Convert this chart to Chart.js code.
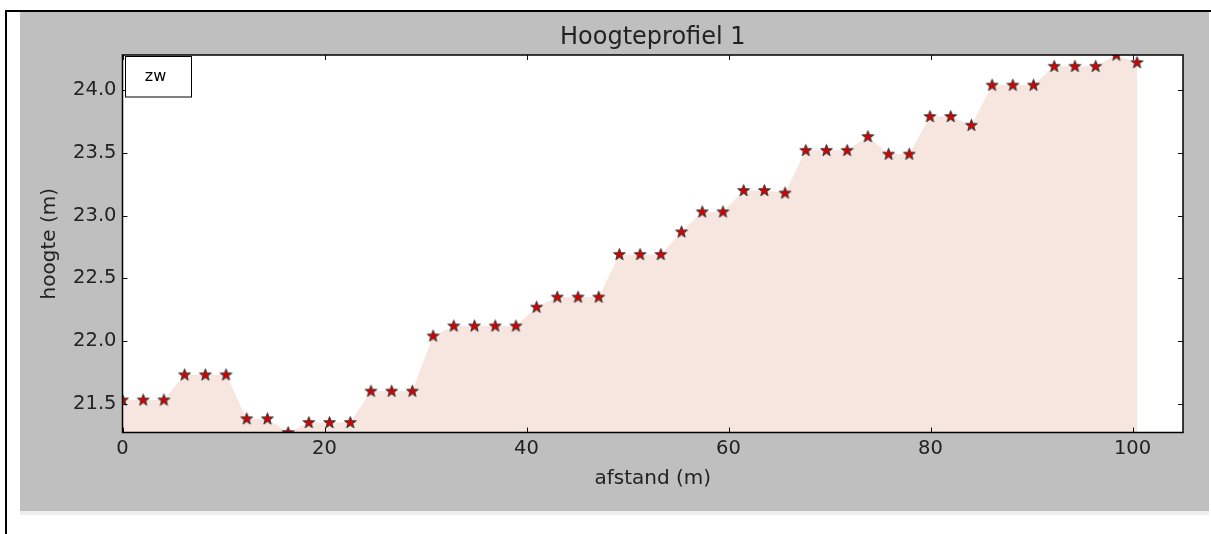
<!DOCTYPE html>
<html>
<head>
<meta charset="utf-8">
<script src="https://cdn.jsdelivr.net/npm/chart.js@4"></script>
<style>
    body { margin: 0; background: #fff; overflow: hidden; }
    canvas { display: block; }
</style>
</head>
<body>
<canvas id="hoogteprofiel" width="1211" height="534"></canvas>
<script>
// afstand langs het profiel (m)
const afstand = [
    0, 2.05, 4.1, 6.15, 8.2, 10.25, 12.3, 14.35, 16.4, 18.45,
    20.5, 22.55, 24.6, 26.65, 28.7, 30.75, 32.8, 34.85, 36.9, 38.95,
    41.0, 43.05, 45.1, 47.15, 49.2, 51.25, 53.3, 55.35, 57.4, 59.45,
    61.5, 63.55, 65.6, 67.65, 69.7, 71.75, 73.8, 75.85, 77.9, 79.95,
    82.0, 84.05, 86.1, 88.15, 90.2, 92.25, 94.3, 96.35, 98.4, 100.45
];

// hoogte per punt (m)
const hoogte = [
    21.53, 21.53, 21.53, 21.73, 21.73, 21.73, 21.38, 21.38, 21.27, 21.35,
    21.35, 21.35, 21.60, 21.60, 21.60, 22.04, 22.12, 22.12, 22.12, 22.12,
    22.27, 22.35, 22.35, 22.35, 22.69, 22.69, 22.69, 22.87, 23.03, 23.03,
    23.20, 23.20, 23.18, 23.52, 23.52, 23.52, 23.63, 23.49, 23.49, 23.79,
    23.79, 23.72, 24.04, 24.04, 24.04, 24.19, 24.19, 24.19, 24.28, 24.22
];

const titel = "Hoogteprofiel 1";
const legendaTekst = "zw";
const xTitel = "afstand (m)";
const yTitel = "hoogte (m)";

const tekstKleur = "#222";
const fontFam = "'DejaVu Sans', sans-serif";

// ster-marker zoals matplotlib '*'
function maakSter() {
    const c = document.createElement("canvas");
    c.width = 15;
    c.height = 15;
    const g = c.getContext("2d");
    const R = 6.2, r = 2.5;
    g.beginPath();
    for (let i = 0; i < 10; i++) {
        const rad = i % 2 === 0 ? R : r;
        const a = -Math.PI / 2 + i * Math.PI / 5;
        const px = 7.5 + rad * Math.cos(a);
        const py = 7.8 + rad * Math.sin(a);
        if (i === 0) g.moveTo(px, py); else g.lineTo(px, py);
    }
    g.closePath();
    g.fillStyle = "#d80000";
    g.fill();
    g.lineWidth = 1;
    g.strokeStyle = "#333";
    g.stroke();
    return c;
}

// achtergrond van de figuur (grijs vlak met rand)
const figuurAchtergrond = {
    id: "figuurAchtergrond",
    beforeDraw(chart) {
        const { ctx, chartArea } = chart;
        ctx.save();
        ctx.fillStyle = "#fff";
        ctx.fillRect(0, 0, chart.width, chart.height);
        ctx.fillStyle = "#000";
        ctx.fillRect(5, 10, 2, 524);
        ctx.fillRect(5, 10, 1206, 2);
        ctx.fillStyle = "#bfbfbf";
        ctx.fillRect(20, 12, 1189, 499);
        ctx.fillStyle = "#eeeeee";
        ctx.fillRect(20, 511, 1189, 4);
        ctx.fillStyle = "#fff";
        ctx.fillRect(chartArea.left, chartArea.top, chartArea.right - chartArea.left, chartArea.bottom - chartArea.top);
        ctx.restore();
    }
};

// kader, tick-streepjes naar binnen en legenda
const kaderEnTicks = {
    id: "kaderEnTicks",
    afterDraw(chart) {
        const { ctx, chartArea, scales } = chart;
        const { left, right, top, bottom } = chartArea;
        ctx.save();
        ctx.strokeStyle = "#111";
        ctx.lineWidth = 1;
        ctx.beginPath();
        scales.x.ticks.forEach(t => {
            const px = Math.round(scales.x.getPixelForValue(t.value)) + 0.5;
            ctx.moveTo(px, bottom); ctx.lineTo(px, bottom - 5);
            ctx.moveTo(px, top); ctx.lineTo(px, top + 5);
        });
        scales.y.ticks.forEach(t => {
            const py = Math.round(scales.y.getPixelForValue(t.value)) + 0.5;
            ctx.moveTo(left, py); ctx.lineTo(left + 5, py);
            ctx.moveTo(right, py); ctx.lineTo(right - 5, py);
        });
        ctx.stroke();

        ctx.lineWidth = 1.5;
        ctx.strokeStyle = "#000";
        ctx.strokeRect(left, top, right - left, bottom - top);

        // legenda
        ctx.fillStyle = "#fff";
        ctx.fillRect(125, 56, 66, 41);
        ctx.lineWidth = 1;
        ctx.strokeStyle = "#000";
        ctx.strokeRect(125.5, 56.5, 66, 40.5);
        ctx.fillStyle = "#000";
        ctx.font = "16px " + fontFam;
        ctx.textAlign = "center";
        ctx.textBaseline = "middle";
        ctx.fillText(legendaTekst, 155.5, 77);
        ctx.restore();
    }
};

const punten = afstand.map((x, i) => ({ x, y: hoogte[i] }));

const ctx = document.getElementById("hoogteprofiel").getContext("2d");

new Chart(ctx, {
    type: "line",
    data: {
        datasets: [{
            label: legendaTekst,
            data: punten,
            borderColor: "transparent",
            borderWidth: 0,
            backgroundColor: "rgb(247, 230, 224)",
            fill: "start",
            tension: 0,
            pointStyle: maakSter(),
            pointRadius: 7,
            pointHoverRadius: 7,
            clip: 0
        }]
    },
    options: {
        responsive: false,
        devicePixelRatio: 1,
        animation: false,
        events: [],
        layout: {
            padding: { left: 0, right: 28, top: 0, bottom: 0 }
        },
        scales: {
            x: {
                type: "linear",
                min: 0,
                max: 105,
                afterFit: s => { s.height = 101.5; },
                ticks: {
                    stepSize: 20,
                    includeBounds: false,
                    padding: 5,
                    color: tekstKleur,
                    font: { family: fontFam, size: 19.5 }
                },
                grid: { display: false, drawTicks: false },
                border: { display: false },
                title: {
                    display: true,
                    text: xTitel,
                    color: tekstKleur,
                    font: { family: fontFam, size: 20 },
                    padding: { top: 0, bottom: 43 }
                }
            },
            y: {
                min: Math.min(...hoogte),
                max: Math.max(...hoogte),
                afterFit: s => { s.width = 122.5; },
                ticks: {
                    stepSize: 0.5,
                    includeBounds: false,
                    padding: 6,
                    color: tekstKleur,
                    font: { family: fontFam, size: 19.5 },
                    callback: v => v.toFixed(1)
                },
                grid: { display: false, drawTicks: false },
                border: { display: false },
                title: {
                    display: true,
                    text: yTitel,
                    color: tekstKleur,
                    font: { family: fontFam, size: 20 },
                    padding: { top: 38, bottom: 0 }
                }
            }
        },
        plugins: {
            legend: { display: false },
            tooltip: { enabled: false },
            title: {
                display: true,
                text: titel,
                fullSize: false,
                color: tekstKleur,
                font: { family: fontFam, size: 24, weight: "normal" },
                padding: { top: 23.5, bottom: 2.7 }
            }
        }
    },
    plugins: [figuurAchtergrond, kaderEnTicks]
});
</script>
</body>
</html>
